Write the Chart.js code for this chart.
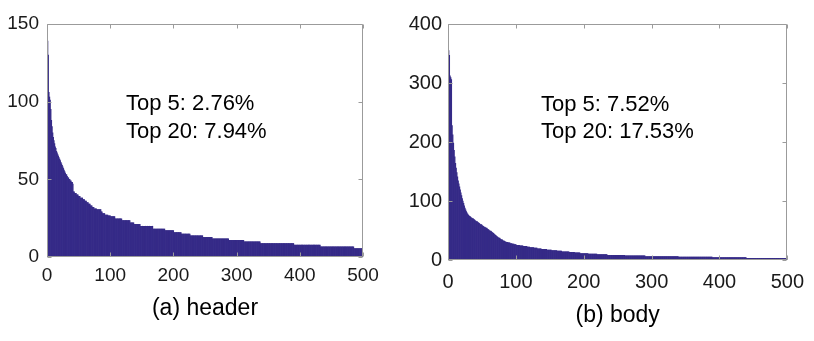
<!DOCTYPE html>
<html>
<head>
<meta charset="utf-8">
<title>header / body counts</title>
<script src="https://cdn.jsdelivr.net/npm/chart.js"></script>
<style>
  html, body { margin: 0; padding: 0; background: #fff; }
  #wrap { position: relative; width: 814px; height: 341px; }
  #headerBox { position: absolute; left: 0; top: 0; width: 405px; height: 341px; }
  #bodyBox { position: absolute; left: 405px; top: 0; width: 409px; height: 341px; }
</style>
</head>
<body>
<div id="wrap">
  <div id="headerBox"><canvas id="headerChart" width="405" height="341"></canvas></div>
  <div id="bodyBox"><canvas id="bodyChart" width="409" height="341"></canvas></div>
</div>
<script>
// counts of the 500 most frequent items
var headerCounts = [
  139, 130, 106, 103, 101, 95, 88, 84, 80, 77,
  75, 73, 71, 70, 68, 67, 66, 65, 64, 63,
  62, 61, 60, 59, 58, 57, 56, 55, 54, 53,
  53, 52, 51, 51, 50, 50, 49, 49, 48, 48,
  47, 42, 42, 41, 41, 41, 40, 40, 40, 39,
  39, 39, 38, 38, 38, 38, 37, 37, 37, 36,
  36, 36, 35, 35, 35, 34, 34, 34, 33, 33,
  33, 32, 32, 32, 31, 31, 31, 31, 30.5, 30.5,
  30.5, 30.5, 30.5, 30.5, 30.5, 29, 29, 28, 28, 28,
  28, 27, 27, 27, 27, 27, 26.5, 26.5, 26.5, 26.5,
  26, 26, 26, 26, 26, 26, 26, 24.5, 24.5, 24.5,
  24.5, 24.5, 24.5, 24.5, 24.5, 24.5, 24.5, 24.5, 23.5, 23.5,
  23.5, 23.5, 23.5, 23.5, 23.5, 23.5, 23.5, 23.5, 23.5, 23.5,
  23.5, 22, 22, 22, 22, 22, 22, 21, 21, 21,
  21, 21, 21, 21, 21, 21, 21, 19.8, 19.8, 19.8,
  19.8, 19.8, 19.8, 19.8, 19.8, 19.8, 19.8, 19.8, 19.8, 19.8,
  19.8, 19.8, 19.8, 19.8, 19.8, 19.8, 19.8, 18, 18, 18,
  18, 18, 18, 18, 18, 18, 18, 18, 18, 18,
  18, 18, 18, 18, 18, 18, 17, 17, 17, 17,
  17, 17, 17, 17, 17, 17, 17, 17, 17, 17,
  15.8, 15.8, 15.8, 15.8, 15.8, 15.8, 15.8, 15.8, 15.8, 15.8,
  15.8, 15.8, 14.8, 14.8, 14.8, 14.8, 14.8, 14.8, 14.8, 14.8,
  14.8, 14.8, 14.8, 14.8, 14.8, 14.8, 13.7, 13.7, 13.7, 13.7,
  13.7, 13.7, 13.7, 13.7, 13.7, 13.7, 13.7, 13.7, 13.7, 13.7,
  13.7, 13.7, 13.7, 13.7, 13.7, 13.7, 12.6, 12.6, 12.6, 12.6,
  12.6, 12.6, 12.6, 12.6, 12.6, 12.6, 12.6, 12.6, 12.6, 12.6,
  12.6, 11.7, 11.7, 11.7, 11.7, 11.7, 11.7, 11.7, 11.7, 11.7,
  11.7, 11.7, 11.7, 11.7, 11.7, 11.7, 11.7, 11.7, 11.7, 11.7,
  11.7, 11.7, 11.7, 11.7, 11.7, 11.7, 11.7, 10.7, 10.7, 10.7,
  10.7, 10.7, 10.7, 10.7, 10.7, 10.7, 10.7, 10.7, 10.7, 10.7,
  10.7, 10.7, 10.7, 10.7, 10.7, 10.7, 10.7, 10.7, 10.7, 10.7,
  10.7, 9.8, 9.8, 9.8, 9.8, 9.8, 9.8, 9.8, 9.8, 9.8,
  9.8, 9.8, 9.8, 9.8, 9.8, 9.8, 9.8, 9.8, 9.8, 9.8,
  9.8, 9.8, 9.8, 9.8, 9.8, 9.8, 9.8, 8.7, 8.7, 8.7,
  8.7, 8.7, 8.7, 8.7, 8.7, 8.7, 8.7, 8.7, 8.7, 8.7,
  8.7, 8.7, 8.7, 8.7, 8.7, 8.7, 8.7, 8.7, 8.7, 8.7,
  8.7, 8.7, 8.7, 8.7, 8.7, 8.7, 8.7, 8.7, 8.7, 8.7,
  8.7, 8.7, 8.7, 8.7, 8.7, 8.7, 8.7, 8.7, 8.7, 8.7,
  8.7, 8.7, 8.7, 8.7, 8.7, 8.7, 8.7, 8.7, 8.7, 8.7,
  7.6, 7.6, 7.6, 7.6, 7.6, 7.6, 7.6, 7.6, 7.6, 7.6,
  7.6, 7.6, 7.6, 7.6, 7.6, 7.6, 7.6, 7.6, 7.6, 7.6,
  7.6, 7.6, 7.6, 7.6, 7.6, 7.6, 7.6, 7.6, 7.6, 7.6,
  7.6, 7.6, 7.6, 7.6, 7.6, 7.6, 7.6, 7.6, 7.6, 7.6,
  7.6, 7.6, 6.5, 6.5, 6.5, 6.5, 6.5, 6.5, 6.5, 6.5,
  6.5, 6.5, 6.5, 6.5, 6.5, 6.5, 6.5, 6.5, 6.5, 6.5,
  6.5, 6.5, 6.5, 6.5, 6.5, 6.5, 6.5, 6.5, 6.5, 6.5,
  6.5, 6.5, 6.5, 6.5, 6.5, 6.5, 6.5, 6.5, 6.5, 6.5,
  6.5, 6.5, 6.5, 6.5, 6.5, 6.5, 6.5, 6.5, 6.5, 6.5,
  6.5, 6.5, 6.5, 6.5, 6.5, 5.4, 5.4, 5.4, 5.4, 5.4,
  5.4, 5.4, 5.4, 5.4, 5.4, 5.4, 5.4, 5.4, 5.4, 5.4
];

var bodyCounts = [
  355, 347, 312, 309, 306, 228, 212, 198, 186, 175,
  164, 156, 148, 141, 134, 129, 124, 119, 114, 109,
  104, 100, 96, 92, 88, 85, 82, 80, 78, 76,
  75, 74, 73, 72, 71, 70, 70, 69, 68, 67,
  66, 65, 65, 64, 63, 62, 61, 60, 60, 59,
  58, 57, 56, 56, 55, 54, 54, 53, 52, 51,
  50, 49, 49, 48, 47, 46, 45, 44, 43, 42,
  41, 40, 39, 38, 37, 37, 36, 35, 34, 34,
  33, 32, 32, 31, 31, 30, 30, 30, 29, 29,
  29, 28, 28, 28, 27, 27, 27, 26, 26, 26,
  25, 25, 25, 25, 25, 24, 24, 24, 24, 24,
  23, 23, 23, 23, 23, 23, 22, 22, 22, 22,
  21, 21, 21, 21, 21, 21, 20, 20, 20, 20,
  20, 19, 19, 19, 19, 19, 19, 18, 18, 18,
  18, 18, 18, 18, 18, 17, 17, 17, 17, 17,
  17, 17, 16, 16, 16, 16, 16, 16, 16, 16,
  15, 15, 15, 15, 15, 15, 15, 14, 14, 14,
  14, 14, 14, 14, 14, 14, 14, 14, 13, 13,
  13, 13, 13, 13, 13, 13, 12, 12, 12, 12,
  12, 12, 12, 12, 11, 11, 11, 11, 11, 11,
  11, 11, 11, 11, 11, 11, 10, 10, 10, 10,
  10, 10, 10, 10, 10, 10, 10, 10, 10, 9,
  9, 9, 9, 9, 9, 9, 9, 9, 9, 9,
  9, 9, 9, 9, 8, 8, 8, 8, 8, 8,
  8, 8, 8, 8, 8, 8, 8, 8, 8, 8,
  8, 8, 8, 8, 8, 8, 8, 8, 8, 8,
  7, 7, 7, 7, 7, 7, 7, 7, 7, 7,
  7, 7, 7, 7, 7, 7, 7, 7, 7, 7,
  7, 7, 7, 7, 7, 7, 7, 7, 7, 7,
  6, 6, 6, 6, 6, 6, 6, 6, 6, 6,
  6, 6, 6, 6, 6, 6, 6, 6, 6, 6,
  6, 6, 6, 6, 6, 6, 6, 6, 6, 6,
  6, 6, 6, 6, 6, 6, 6, 6, 6, 6,
  6, 6, 6, 6, 6, 6, 6, 6, 6, 5,
  5, 5, 5, 5, 5, 5, 5, 5, 5, 5,
  5, 5, 5, 5, 5, 5, 5, 5, 5, 5,
  5, 5, 5, 5, 5, 5, 5, 5, 5, 5,
  5, 5, 5, 5, 5, 5, 5, 5, 5, 5,
  5, 5, 5, 5, 5, 5, 5, 5, 5, 4,
  4, 4, 4, 4, 4, 4, 4, 4, 4, 4,
  4, 4, 4, 4, 4, 4, 4, 4, 4, 4,
  4, 4, 4, 4, 4, 4, 4, 4, 4, 4,
  4, 4, 4, 4, 4, 4, 4, 4, 4, 4,
  4, 4, 4, 4, 4, 4, 4, 4, 4, 3,
  3, 3, 3, 3, 3, 3, 3, 3, 3, 3,
  3, 3, 3, 3, 3, 3, 3, 3, 3, 3,
  3, 3, 3, 3, 3, 3, 3, 3, 3, 3,
  3, 3, 3, 3, 3, 3, 3, 3, 3, 3,
  3, 3, 3, 3, 3, 3, 3, 3, 3, 3,
  3, 3, 3, 3, 3, 3, 3, 3, 3, 3
];

var xTicks = [0, 100, 200, 300, 400, 500];
var headerYTicks = [0, 50, 100, 150];
var bodyYTicks = [0, 100, 200, 300, 400];
var headerNote = ['Top 5: 2.76%', 'Top 20: 7.94%'];
var bodyNote = ['Top 5: 7.52%', 'Top 20: 17.53%'];
var panelTitles = ['(a) header', '(b) body'];

var FONT = '"Liberation Sans", Arial, Helvetica, sans-serif';
var BAR_COLOR = '#352a87';

// box round the plot area, with short ticks pointing inwards (matlab look)
var framePlugin = {
    id: 'frame',
    afterDatasetsDraw: function(chart) {
        var ctx = chart.ctx, a = chart.chartArea;
        var sx = chart.scales.x, sy = chart.scales.y;
        var l = Math.round(a.left) + 0.5, r = Math.round(a.right) - 0.5;
        var t = Math.round(a.top) + 0.5, b = Math.round(a.bottom) - 0.5;
        ctx.save();
        ctx.strokeStyle = '#9b9b9b';
        ctx.lineWidth = 1;
        ctx.beginPath();
        ctx.rect(l, t, r - l, b - t);
        sx.ticks.forEach(function(tk) {
            var px = Math.round(sx.getPixelForValue(tk.value)) + 0.5;
            ctx.moveTo(px, t); ctx.lineTo(px, t + 4);
            ctx.moveTo(px, b); ctx.lineTo(px, b - 4);
        });
        sy.ticks.forEach(function(tk) {
            var py = Math.round(sy.getPixelForValue(tk.value)) + 0.5;
            ctx.moveTo(l, py); ctx.lineTo(l + 4, py);
            ctx.moveTo(r, py); ctx.lineTo(r - 4, py);
        });
        ctx.stroke();
        ctx.restore();
    }
};

// the two "Top N" lines inside the plot
var notePlugin = {
    id: 'note',
    afterDraw: function(chart, args, opts) {
        var ctx = chart.ctx;
        var x = chart.scales.x.getPixelForValue(opts.x);
        ctx.save();
        ctx.font = opts.size + 'px ' + FONT;
        ctx.fillStyle = '#000';
        ctx.textAlign = 'left';
        ctx.textBaseline = 'middle';
        opts.lines.forEach(function(line, i) {
            ctx.fillText(line, x, chart.scales.y.getPixelForValue(opts.y[i]));
        });
        ctx.restore();
    }
};

function makePanel(canvasId, counts, yTicks, title, note, p) {
    var ranks = counts.map(function(v, i) { return i + 1; });
    var tickFont = {family: FONT, size: p.tickSize};

    return new Chart(document.getElementById(canvasId), {
        type: 'bar',
        data: {
            labels: ranks,
            datasets: [{
                data: counts,
                backgroundColor: BAR_COLOR,
                borderWidth: 0,
                barPercentage: 1,
                categoryPercentage: 1
            }]
        },
        options: {
            responsive: false,
            animation: false,
            layout: {padding: {left: 0, right: p.rightPad, top: 24, bottom: 0}},
            plugins: {
                legend: {display: false},
                tooltip: {enabled: false},
                note: {lines: note, x: p.noteX, y: p.noteY, size: 22}
            },
            scales: {
                x: {
                    type: 'linear',
                    min: xTicks[0],
                    max: xTicks[xTicks.length - 1],
                    offset: false,
                    grid: {display: false, drawTicks: false},
                    border: {display: false},
                    afterBuildTicks: function(s) { s.ticks = xTicks.map(function(v) { return {value: v}; }); },
                    ticks: {padding: p.xPad, color: '#1a1a1a', font: tickFont, maxRotation: 0, autoSkip: false},
                    title: {
                        display: true,
                        text: title,
                        color: '#000',
                        font: {family: FONT, size: 23},
                        padding: {top: 0, bottom: p.titlePad}
                    },
                    afterFit: function(s) { s.height = p.xHeight; }
                },
                y: {
                    min: yTicks[0],
                    max: yTicks[yTicks.length - 1],
                    grid: {display: false, drawTicks: false},
                    border: {display: false},
                    afterBuildTicks: function(s) { s.ticks = yTicks.map(function(v) { return {value: v}; }); },
                    ticks: {padding: p.yPad, color: '#1a1a1a', font: tickFont},
                    afterFit: function(s) { s.width = p.yWidth; }
                }
            }
        },
        plugins: [framePlugin, notePlugin]
    });
}

makePanel('headerChart', headerCounts, headerYTicks, panelTitles[0], headerNote, {
    tickSize: 19, rightPad: 42, yWidth: 47, xHeight: 84, xPad: 7, yPad: 8, titlePad: 19,
    noteX: 125, noteY: [98.5, 80.7]
});

makePanel('bodyChart', bodyCounts, bodyYTicks, panelTitles[1], bodyNote, {
    tickSize: 20, rightPad: 26, yWidth: 43, xHeight: 81, xPad: 10, yPad: 6, titlePad: 12,
    noteX: 137, noteY: [263, 217]
});
</script>
</body>
</html>
